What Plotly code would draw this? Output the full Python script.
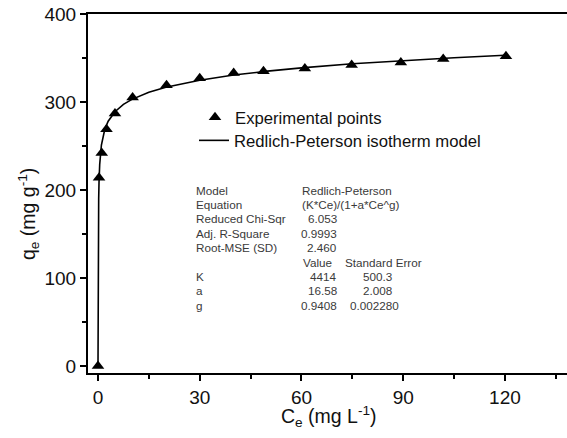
import plotly.graph_objects as go

# ---- data ----
ce_points = [0, 0.3, 1.1, 2.5, 5.0, 10.2, 20.2, 30.0, 40.0, 48.8, 61.0, 74.8, 89.3, 101.8, 120.3]
qe_points = [0, 214, 242, 269, 287, 305, 319, 327, 333, 335, 338, 342, 345, 349, 352]

curve_ce = [0, 0.02, 0.05, 0.1, 0.2, 0.3, 0.5, 1, 2, 3, 5, 7.5, 10, 15, 20, 30, 40, 50, 60, 75, 90, 105, 120]
curve_qe = [0, 62.3, 110.9, 152.2, 189.9, 208.9, 229.0, 251.1, 268.9, 278.1, 289.0, 297.3, 303.0,
            311.0, 316.8, 324.8, 330.6, 335.1, 338.8, 343.4, 347.1, 350.3, 353.2]

table_labels = ["Model", "Equation", "Reduced Chi-Sqr", "Adj. R-Square", "Root-MSE (SD)", "", "K", "a", "g"]
table_text = ["Redlich-Peterson", "(K*Ce)/(1+a*Ce^g)"]
table_stats = ["6.053", "0.9993", "2.460"]
param_values = ["4414", "16.58", "0.9408"]
param_errors = ["500.3", "2.008", "0.002280"]

FONT = "Liberation Sans, Arial, sans-serif"
W, H = 567, 438
L, R, T, B = 88, 0, 14, 65

def px_x(px):
    return (px - L) / (W - L - R)

def px_y(py):
    return (H - B - py) / (H - T - B)

fig = go.Figure()
fig.add_trace(go.Scatter(
    x=curve_ce, y=curve_qe, mode="lines",
    line=dict(color="black", width=1.6),
    name="Redlich-Peterson isotherm model",
    legend="legend2",
))
fig.add_trace(go.Scatter(
    x=ce_points, y=qe_points, mode="markers",
    marker=dict(symbol="triangle-up", size=11, color="black"),
    name="Experimental points",
    legend="legend",
))

ann = []
tcol = "#3a3a3a"
tsize = 11.7
row0, step = 190, 14.4
for i, lab in enumerate(table_labels):
    if lab:
        ann.append(dict(x=px_x(194), y=px_y(row0 + i * step), text=lab, xanchor="left", yanchor="middle"))
for i, t in enumerate(table_text):
    ann.append(dict(x=px_x(300), y=px_y(row0 + i * step), text=t, xanchor="left", yanchor="middle"))
for i, t in enumerate(table_stats):
    ann.append(dict(x=px_x(339), y=px_y(row0 + (i + 2) * step), text=t, xanchor="right", yanchor="middle"))
ann.append(dict(x=px_x(301), y=px_y(row0 + 5 * step), text="Value", xanchor="left", yanchor="middle"))
ann.append(dict(x=px_x(343), y=px_y(row0 + 5 * step), text="Standard Error", xanchor="left", yanchor="middle"))
for i, (v, e) in enumerate(zip(param_values, param_errors)):
    ann.append(dict(x=px_x(339), y=px_y(row0 + (i + 6) * step), text=v, xanchor="right", yanchor="middle"))
    ann.append(dict(x=px_x(401 if len(e) > 6 else 394), y=px_y(row0 + (i + 6) * step), text=e,
                    xanchor="right", yanchor="middle"))
for a in ann:
    a.update(xref="paper", yref="paper", showarrow=False, font=dict(family=FONT, size=tsize, color=tcol))

# axis titles
ann.append(dict(x=px_x(329), y=px_y(416), xref="paper", yref="paper", showarrow=False,
                text="C<sub>e</sub> (mg L<sup>-1</sup>)", xanchor="center", yanchor="middle",
                font=dict(family=FONT, size=19.5, color="#111")))
ann.append(dict(x=px_x(28), y=px_y(214), xref="paper", yref="paper", showarrow=False,
                text="q<sub>e</sub> (mg g<sup>-1</sup>)", xanchor="center", yanchor="middle", textangle=-90,
                font=dict(family=FONT, size=19.5, color="#111")))

leg_common = dict(xanchor="left", yanchor="top", bgcolor="rgba(0,0,0,0)",
                  font=dict(family=FONT, size=16.7, color="#111"))
fig.update_layout(
    width=W, height=H,
    margin=dict(l=L, r=R, t=T, b=B, autoexpand=False),
    paper_bgcolor="white", plot_bgcolor="white",
    font=dict(family=FONT, color="#111"),
    showlegend=True,
    legend=dict(x=px_x(195), y=px_y(100), **leg_common),
    legend2=dict(x=px_x(194), y=px_y(123), **leg_common),
    annotations=ann,
)
fig.update_xaxes(
    range=[-2.95, 138.3], showgrid=False, zeroline=False,
    showline=True, linecolor="black", linewidth=2, mirror=True,
    ticks="outside", ticklen=6, tickwidth=2, tickcolor="black",
    tick0=0, dtick=30, tickfont=dict(family=FONT, size=19, color="#111"),
    minor=dict(ticks="outside", ticklen=4, tickwidth=2, tickcolor="black", dtick=15, tick0=0),
)
fig.update_yaxes(
    range=[-8, 400], showgrid=False, zeroline=False,
    showline=True, linecolor="black", linewidth=2, mirror=False,
    ticks="outside", ticklen=6, tickwidth=2, tickcolor="black",
    tick0=0, dtick=100, tickfont=dict(family=FONT, size=19, color="#111"),
    minor=dict(ticks="outside", ticklen=4, tickwidth=2, tickcolor="black", dtick=50, tick0=0),
)

fig.write_html("out.html")
